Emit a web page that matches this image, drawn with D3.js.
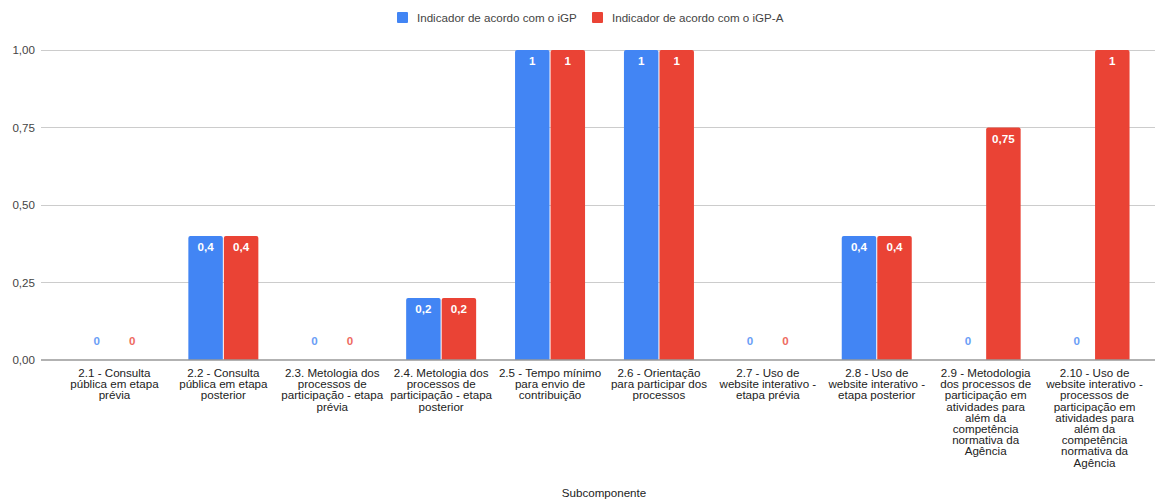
<!DOCTYPE html>
<html>
<head>
<meta charset="utf-8">
<script src="https://cdn.jsdelivr.net/npm/d3@7/dist/d3.min.js"></script>
<style>
  html, body { margin: 0; padding: 0; background: #fff; }
  svg { display: block; font-family: "Liberation Sans", Arial, sans-serif; }
</style>
</head>
<body>
<svg id="chart" width="1155" height="500"></svg>
<script>
// Subcomponent names ("\n" marks where each label wraps)
const categories = [
  "2.1 - Consulta\npública em etapa\nprévia",
  "2.2 - Consulta\npública em etapa\nposterior",
  "2.3. Metologia dos\nprocessos de\nparticipação - etapa\nprévia",
  "2.4. Metologia dos\nprocessos de\nparticipação - etapa\nposterior",
  "2.5 - Tempo mínimo\npara envio de\ncontribuição",
  "2.6 - Orientação\npara participar dos\nprocessos",
  "2.7 - Uso de\nwebsite interativo -\netapa prévia",
  "2.8 - Uso de\nwebsite interativo -\netapa posterior",
  "2.9 - Metodologia\ndos processos de\nparticipação em\natividades para\nalém da\ncompetência\nnormativa da\nAgência",
  "2.10 - Uso de\nwebsite interativo -\nprocessos de\nparticipação em\natividades para\nalém da\ncompetência\nnormativa da\nAgência"
];
const seriesNames = ["Indicador de acordo com o iGP", "Indicador de acordo com o iGP-A"];
const igp  = [0, 0.4, 0, 0.2, 1, 1, 0, 0.4, 0, 0];
const igpA = [0, 0.4, 0, 0.2, 1, 1, 0, 0.4, 0.75, 1];
const yTicks = [0, 0.25, 0.5, 0.75, 1];
const xTitle = "Subcomponente";

const colors = ["#4285F4", "#EA4335"];
const outColors = ["#6a9ef6", "#ee6b61"];
const seriesValues = [igp, igpA];

const svg = d3.select("#chart");
const gridLeft = 41, gridRight = 1155;
const fs = 11.6;

const x = d3.scaleBand().domain(categories).range([60, 1149]).padding(0);
const y = d3.scaleLinear().domain([0, 1]).range([360, 50]);
const bw = x.bandwidth();
const x1 = d3.scaleBand().domain([0, 1])
  .range([bw / 2 - 35, bw / 2 + 35]).paddingInner(2 / 70).paddingOuter(0);

const fmtVal = v => String(v).replace(".", ",");
const fmtTick = d3.format(".2f");

// gridlines + y labels
const yAxis = svg.append("g");
yTicks.forEach(t => {
  if (t !== 0) {
    yAxis.append("line")
      .attr("x1", gridLeft).attr("x2", gridRight)
      .attr("y1", y(t)).attr("y2", y(t))
      .attr("stroke", "#cccccc").attr("stroke-width", 1).attr("shape-rendering", "crispEdges");
  }
  yAxis.append("text")
    .attr("x", 35).attr("y", y(t)).attr("dy", "0.35em")
    .attr("text-anchor", "end").attr("font-size", fs).attr("fill", "#444")
    .text(fmtTick(t).replace(".", ","));
});

// bars with value labels
const groups = svg.append("g").selectAll("g").data(categories).join("g")
  .attr("transform", d => `translate(${x(d)},0)`);

groups.each(function(cat, i) {
  const g = d3.select(this);
  seriesValues.forEach((vals, s) => {
    const v = vals[i];
    const bx = x1(s), w = x1.bandwidth();
    if (v > 0) {
      const top = y(v), bottom = y(0), r = 2;
      g.append("path")
        .attr("d", `M${bx},${bottom}V${top + r}Q${bx},${top} ${bx + r},${top}H${bx + w - r}Q${bx + w},${top} ${bx + w},${top + r}V${bottom}Z`)
        .attr("fill", colors[s]);
      g.append("text")
        .attr("x", bx + w / 2).attr("y", top + 15)
        .attr("text-anchor", "middle").attr("font-size", fs).attr("font-weight", "bold")
        .attr("fill", "#fff").text(fmtVal(v));
    } else {
      g.append("text")
        .attr("x", bx + w / 2).attr("y", y(0) - 15)
        .attr("text-anchor", "middle").attr("font-size", fs).attr("font-weight", "bold")
        .attr("fill", outColors[s]).text(fmtVal(v));
    }
  });
});

// zero baseline
svg.append("line")
  .attr("x1", gridLeft).attr("x2", gridRight)
  .attr("y1", y(0)).attr("y2", y(0))
  .attr("stroke", "#999").attr("stroke-width", 1.5);

// category labels
const xl = svg.append("g");
categories.forEach(cat => {
  const t = xl.append("text")
    .attr("text-anchor", "middle").attr("font-size", fs).attr("fill", "#222");
  cat.split("\n").forEach((line, k) => {
    t.append("tspan").attr("x", x(cat) + bw / 2).attr("y", 377 + k * 11.2).text(line);
  });
});

// x title
svg.append("text")
  .attr("x", 604).attr("y", 497).attr("text-anchor", "middle")
  .attr("font-size", fs).attr("fill", "#222").text(xTitle);

// legend
const legend = svg.append("g");
const legendX = [397, 592];
seriesNames.forEach((name, s) => {
  legend.append("rect")
    .attr("x", legendX[s]).attr("y", 12).attr("width", 11).attr("height", 11)
    .attr("rx", 1).attr("fill", colors[s]);
  legend.append("text")
    .attr("x", legendX[s] + 20).attr("y", 18).attr("dy", "0.35em")
    .attr("font-size", fs).attr("fill", "#444").text(name);
});
</script>
</body>
</html>
